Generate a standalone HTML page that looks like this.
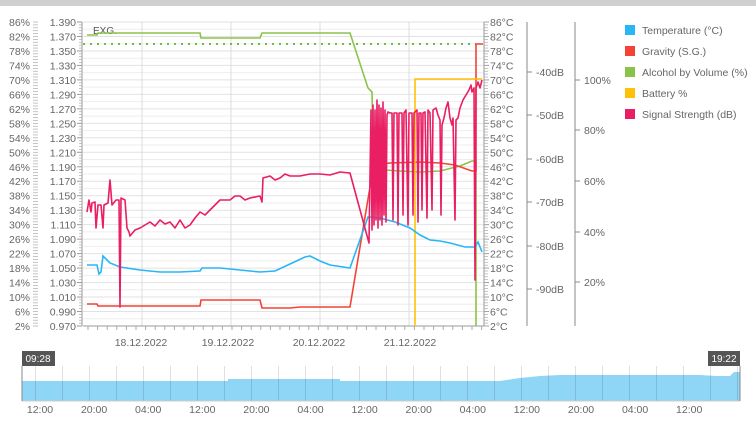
<!DOCTYPE html>
<html><head><meta charset="utf-8"><style>
body{margin:0;width:756px;height:423px;background:#fff;overflow:hidden;font-family:"Liberation Sans",sans-serif}
svg text{font-family:"Liberation Sans",sans-serif;font-size:10.5px;fill:#666}
</style></head><body>
<svg width="756" height="423" xmlns="http://www.w3.org/2000/svg">
<rect x="0" y="0" width="756" height="6" fill="#d0d0d0"/>
<g id="grid"></g>
<g id="axes"></g>
<text x="93" y="34" style="font-size:10px;fill:#555">EXG.</text>
<line x1="83" y1="44" x2="476" y2="44" stroke="#6cbf3c" stroke-width="2" stroke-dasharray="2,5"/>
<polyline fill="none" stroke="#8bc34a" stroke-width="1.6" points="87,35 97,35 98,33 200,33 201,38 260,38 262,33 350,33 368,88 372,92 373,137 380,168 385,170 400,171 420,172 440,171 460,166 472,161 476,161 476,326"/>
<polyline fill="none" stroke="#f44336" stroke-width="1.6" points="87,304 97,304 98,306 200,306 201,300 260,300 262,308 290,308 300,307 350,307 372,175 375,165 390,163 420,162 440,163 455,165 472,171 476,171 476,44 483,44"/>
<polyline fill="none" stroke="#ffc107" stroke-width="1.6" points="415,326 415,79 482,79"/>
<polyline fill="none" stroke="#29b6f6" stroke-width="1.6" points="87,265 97,265 99,274 101,272 103,256 110,263 120,267 140,270 160,272 180,272 200,271 202,268 220,268 250,271 260,272 275,271 290,264 305,257 310,256 320,261 330,265 350,268 368,217 380,218 395,222 410,228 420,235 430,240 440,241 450,243 465,247 475,247 478,242 482,252"/>
<polyline fill="none" stroke="#e91e63" stroke-width="1.6" stroke-linejoin="round" points="87,212 89,200 91,212 92,203 95,202 96,228 98,205 101,205 103,228 104,205 108,203 110,180 112,205 116,200 119,200 120,307 121,198 125,200 127,228 129,232 130,236 135,230 140,228 145,225 150,222 155,226 160,220 165,224 170,222 175,228 180,220 185,228 190,225 195,218 200,212 205,215 210,210 215,205 220,200 230,200 235,196 240,196 245,200 250,198 260,196 262,202 263,178 270,176 275,180 280,178 285,174 290,176 300,176 310,174 320,174 330,175 340,172 350,173 369,243 371,110 372,230 373,105 374,225 375,110 376,220 377,100 378,228 379,105 380,220 381,108 382,225 383,102 384,215 385,110 386,222 387,115 388,112 390,113 392,113 393,220 394,113 397,113 398,225 399,113 402,113 403,215 404,113 406,110 408,225 409,113 412,113 413,215 414,113 417,110 418,222 419,113 421,113 422,210 423,113 425,112 427,218 428,110 430,113 432,210 433,110 436,108 438,115 440,120 441,215 442,125 444,118 446,108 448,102 450,118 452,125 453,118 455,220 456,120 458,118 460,108 463,100 466,95 469,90 471,85 472,92 474,88 475,280 476,88 478,82 480,88 482,80"/>
<line x1="527" y1="22" x2="527" y2="326" stroke="#888"/>
<line x1="575" y1="22" x2="575" y2="326" stroke="#888"/>
<g id="ra"></g>
<rect x="625" y="25" width="10" height="10" fill="#29b6f6"/><text x="642" y="34">Temperature (°C)</text>
<rect x="625" y="46" width="10" height="10" fill="#f44336"/><text x="642" y="55">Gravity (S.G.)</text>
<rect x="625" y="67" width="10" height="10" fill="#8bc34a"/><text x="642" y="76">Alcohol by Volume (%)</text>
<rect x="625" y="88" width="10" height="10" fill="#ffc107"/><text x="642" y="97">Battery %</text>
<rect x="625" y="109" width="10" height="10" fill="#e91e63"/><text x="642" y="118">Signal Strength (dB)</text>
<text x="141" y="346" text-anchor="middle">18.12.2022</text>
<text x="228" y="346" text-anchor="middle">19.12.2022</text>
<text x="319" y="346" text-anchor="middle">20.12.2022</text>
<text x="410" y="346" text-anchor="middle">21.12.2022</text>
<polygon fill="#8fd5f5" points="22,401 22,381 228,381 228,379 340,379 340,381 500,381 520,378 540,376 560,375 700,375 716,376 730,376 734,372 740,372 740,401"/>
<g id="nav"></g>
<line x1="22" y1="401" x2="740" y2="401" stroke="#ccc"/>
<line x1="22" y1="366" x2="22" y2="401" stroke="#888"/>
<line x1="740" y1="366" x2="740" y2="401" stroke="#888"/>
<rect x="22" y="351" width="33" height="15" fill="#555"/><text x="38" y="362" text-anchor="middle" style="fill:#fff;font-size:10px">09:28</text>
<rect x="708" y="351" width="32" height="15" fill="#555"/><text x="724" y="362" text-anchor="middle" style="fill:#fff;font-size:10px">19:22</text>
<g id="nl"></g>
</svg>
<script>
(function(){
var ns="http://www.w3.org/2000/svg";
function el(p,t,a,txt){var e=document.createElementNS(ns,t);for(var k in a)e.setAttribute(k,a[k]);if(txt!==undefined)e.textContent=txt;document.getElementById(p).appendChild(e);}
var T=22,B=326,st=(B-T)/21;
for(var i=0;i<=42;i++){var y=T+i*st/2;el('grid','line',{x1:83,x2:484,y1:y,y2:y,stroke:i%2?'#eeeeee':'#e2e2e2'});}
[142,231,320,409].forEach(function(x){el('grid','line',{x1:x,x2:x,y1:T,y2:B,stroke:'#dcdcdc'});});
el('axes','line',{x1:82,x2:82,y1:T,y2:B,stroke:'#999'});
el('axes','line',{x1:484,x2:484,y1:T,y2:B,stroke:'#999'});
el('axes','line',{x1:83,x2:484,y1:B,y2:B,stroke:'#999'});
for(var i=0;i<=21;i++){var y=T+i*st;
 el('axes','text',{x:30,y:y+4,'text-anchor':'end'},(86-4*i)+'%');
 el('axes','text',{x:76,y:y+4,'text-anchor':'end'},(1.390-0.02*i).toFixed(3));
 el('axes','text',{x:490,y:y+4},(86-4*i)+'°C');
 el('axes','line',{x1:77,x2:82,y1:y,y2:y,stroke:'#999'});
 el('axes','line',{x1:484,x2:489,y1:y,y2:y,stroke:'#999'});
}
for(var i=0;i<=105;i++){var y=T+i*st/5;
 el('axes','line',{x1:33,x2:38,y1:y,y2:y,stroke:'#aaa','stroke-width':0.7});
 el('axes','line',{x1:484,x2:488,y1:y,y2:y,stroke:'#aaa','stroke-width':0.7});
 if(i%5) el('axes','line',{x1:79,x2:82,y1:y,y2:y,stroke:'#aaa','stroke-width':0.7});
}
for(var i=0;i<42;i++){var x=88+i*9.6;el('axes','line',{x1:x,x2:x,y1:B,y2:B+4,stroke:'#aaa'});}
[[72,-40],[115,-50],[159,-60],[202,-70],[246,-80],[289,-90]].forEach(function(d){el('ra','line',{x1:527,x2:532,y1:d[0],y2:d[0],stroke:'#888'});el('ra','text',{x:536,y:d[0]+4},d[1]+'dB');});
[[80,100],[130,80],[181,60],[232,40],[282,20]].forEach(function(d){el('ra','line',{x1:575,x2:580,y1:d[0],y2:d[0],stroke:'#888'});el('ra','text',{x:584,y:d[0]+4},d[1]+'%');});
for(var x=22+13.5;x<740;x+=27){el('nav','line',{x1:x,x2:x,y1:366,y2:401,stroke:'rgba(0,0,0,0.12)'});}
var lab=['12:00','20:00','04:00','12:00','20:00','04:00','12:00','20:00','04:00','12:00','20:00','04:00','12:00'];
lab.forEach(function(t,i){el('nl','text',{x:40+i*54.1,y:413,'text-anchor':'middle'},t);});
})();
</script>
</body></html>
